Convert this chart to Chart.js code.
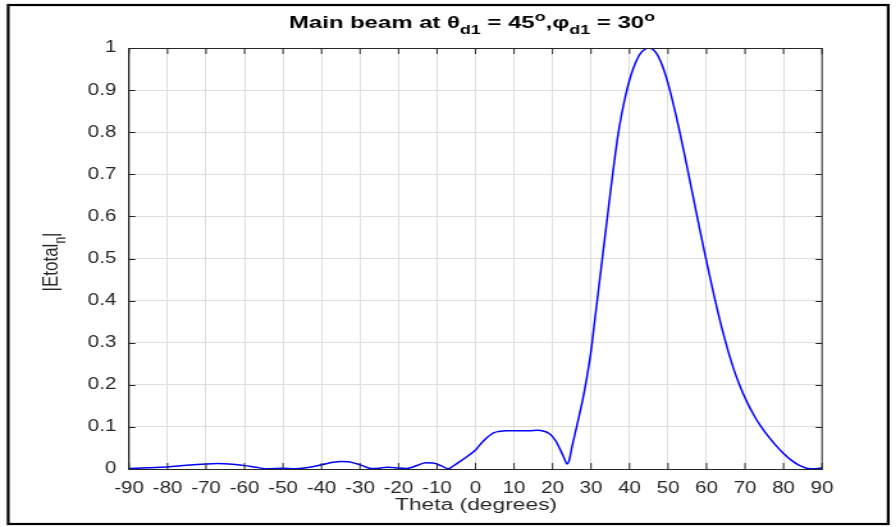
<!DOCTYPE html>
<html>
<head>
<meta charset="utf-8">
<script src="https://cdn.jsdelivr.net/npm/chart.js@4.4.1/dist/chart.umd.min.js"></script>
<style>
  html, body { margin: 0; padding: 0; background: #ffffff; overflow: hidden; }
  #page { position: relative; width: 896px; height: 527px; overflow: hidden; }
  /* the reference figure is a MATLAB plot that was stretched sideways; reproduce that stretch */
  #wrap { position: absolute; left: 0; top: 0; width: 700px; height: 527px; transform: scaleX(1.28); transform-origin: 0 0; }
</style>
</head>
<body>
<div id="page"><div id="wrap"><canvas id="c"></canvas></div></div>
<script>
// ---- data ----
const thetaDeg = [-90,-85,-80,-75,-70,-67,-64,-60,-57,-54,-50,-47,-44,-40,-37,-35,-33,-30,-27,-25,-23,-21,-18,-15,-13,-11,-9,-7,-6,-4,-2,0,1,2,3,4,5,6,8,10,12,14,16,18,19,20,21,22,23,23.75,24.3,25,26,27,28,29,30,31,32,33,34,35,36,37,38,39,40,41,42,43,44,45,46,47,48,49,50,51,52,53,54,55,56,57,58,59,60,61,62,63,64,65,66,67,68,69,70,71,72,73,74,75,76,78,80,82,84,86,88,90];
const etotalN = [0.001,0.003,0.005,0.009,0.012,0.013,0.012,0.008,0.004,0.0005,0.002,0.0005,0.003,0.010,0.016,0.018,0.017,0.010,0.001,0.002,0.004,0.003,0.001,0.009,0.015,0.014,0.008,0.0005,0.006,0.018,0.031,0.045,0.056,0.066,0.075,0.082,0.087,0.089,0.091,0.091,0.091,0.091,0.092,0.089,0.085,0.077,0.064,0.046,0.026,0.012,0.020,0.050,0.090,0.130,0.172,0.222,0.280,0.355,0.430,0.505,0.580,0.655,0.727,0.793,0.845,0.888,0.924,0.952,0.974,0.989,0.997,1.000,0.997,0.987,0.970,0.946,0.916,0.881,0.843,0.802,0.759,0.715,0.670,0.625,0.580,0.536,0.493,0.451,0.410,0.371,0.334,0.300,0.268,0.239,0.213,0.190,0.169,0.150,0.133,0.117,0.103,0.090,0.078,0.056,0.037,0.021,0.009,0.002,0.0005,0.003];
const xTickValues = [-90,-80,-70,-60,-50,-40,-30,-20,-10,0,10,20,30,40,50,60,70,80,90];
const xTickLabels = ['-90','-80','-70','-60','-50','-40','-30','-20','-10','0','10','20','30','40','50','60','70','80','90'];
const yTickValues = [0,0.1,0.2,0.3,0.4,0.5,0.6,0.7,0.8,0.9,1];
const yTickLabels = ['0','0.1','0.2','0.3','0.4','0.5','0.6','0.7','0.8','0.9','1'];
const titleParts = [
  {t: 'Main beam at \u03B8', k: 'n'}, {t: 'd1', k: 'sub'}, {t: ' = 45', k: 'n'}, {t: 'o', k: 'sup'},
  {t: ',\u03C6', k: 'n'}, {t: 'd1', k: 'sub'}, {t: ' = 30', k: 'n'}, {t: 'o', k: 'sup'}
];
const yLabelParts = [{t: '|Etotal', k: 'n'}, {t: 'n', k: 'sub'}, {t: '|', k: 'n'}];
const xLabelText = 'Theta (degrees)';

const AX = '#262626';
const FAM = '"Liberation Sans", Arial, Helvetica, sans-serif';

function drawParts(ctx, parts, bold, size, subSize, cx, baseY, targetW) {
  const w = bold ? 'bold ' : '';
  const fN = w + size + 'px ' + FAM;
  const fS = w + subSize + 'px ' + FAM;
  let total = 0;
  const widths = parts.map(p => { ctx.font = p.k === 'n' ? fN : fS; const m = ctx.measureText(p.t).width; total += m; return m; });
  const sx = targetW ? targetW / total : 1;
  ctx.save();
  ctx.translate(cx, baseY);
  ctx.scale(sx, 1);
  let x = -total / 2;
  ctx.textBaseline = 'alphabetic';
  ctx.textAlign = 'left';
  parts.forEach((p, i) => {
    ctx.font = p.k === 'n' ? fN : fS;
    const dy = p.k === 'sub' ? size * 0.38 : (p.k === 'sup' ? -size * 0.45 : 0);
    ctx.fillText(p.t, x, dy);
    x += widths[i];
  });
  ctx.restore();
}

const decor = {
  id: 'decor',
  afterDraw(chart) {
    const ctx = chart.ctx;
    const a = chart.chartArea;
    const xs = chart.scales.x, ys = chart.scales.y;
    ctx.save();
    // axes box
    ctx.strokeStyle = AX;
    ctx.lineWidth = 1;
    ctx.strokeRect(a.left, Math.round(a.top) + 0.5, a.right - a.left, Math.round(a.bottom - a.top));
    // inward ticks
    ctx.beginPath();
    xTickValues.forEach(v => {
      const px = xs.getPixelForValue(v);
      ctx.moveTo(px, a.bottom); ctx.lineTo(px, a.bottom - 6);
      ctx.moveTo(px, a.top); ctx.lineTo(px, a.top + 6);
    });
    yTickValues.forEach(v => {
      const py = Math.round(ys.getPixelForValue(v)) + 0.5;
      ctx.moveTo(a.left, py); ctx.lineTo(a.left + 5, py);
      ctx.moveTo(a.right, py); ctx.lineTo(a.right - 5, py);
    });
    ctx.stroke();
    // figure frame
    ctx.strokeStyle = '#000000';
    ctx.lineWidth = 2.2;
    ctx.strokeRect(6.4, 5, 687.5, 519);
    // title
    ctx.fillStyle = '#000000';
    drawParts(ctx, titleParts, true, 16, 12, 368.75, 28, 286);
    // x label
    ctx.fillStyle = AX;
    drawParts(ctx, [{t: xLabelText, k: 'n'}], false, 16, 12, 371.9, 510, 126.6);
    // y label (rotated)
    ctx.save();
    ctx.translate(44.5, 262);
    ctx.rotate(-Math.PI / 2);
    drawParts(ctx, yLabelParts, false, 17, 12, 0, 0, 0);
    ctx.restore();
    ctx.restore();
  }
};

new Chart(document.getElementById('c'), {
  type: 'line',
  data: {
    datasets: [{
      data: thetaDeg.map((x, i) => ({x: x, y: etotalN[i]})),
      borderColor: '#0000ff',
      borderWidth: 1.5,
      pointRadius: 0,
      fill: false,
      cubicInterpolationMode: 'monotone'
    }]
  },
  options: {
    responsive: true,
    maintainAspectRatio: false,
    animation: false,
    layout: {padding: {left: 0, right: 57.8, top: 48, bottom: 0}},
    plugins: {legend: {display: false}, tooltip: {enabled: false}, title: {display: false}},
    scales: {
      x: {
        type: 'linear', min: -90, max: 90,
        afterBuildTicks: s => { s.ticks = xTickValues.map(v => ({value: v})); },
        afterFit: s => { s.height = 58; },
        grid: {color: '#dedede', drawTicks: false, lineWidth: 1},
        border: {display: true, color: AX},
        ticks: {
          padding: 10, color: AX, maxRotation: 0, autoSkip: false,
          font: {family: FAM, size: 16},
          callback: (v, i) => xTickLabels[i]
        }
      },
      y: {
        type: 'linear', min: 0, max: 1,
        afterBuildTicks: s => { s.ticks = yTickValues.map(v => ({value: v})); },
        afterFit: s => { s.width = 100.8; },
        grid: {color: '#dedede', drawTicks: false, lineWidth: 1},
        border: {display: true, color: AX},
        ticks: {
          padding: 10, color: AX,
          font: {family: FAM, size: 16},
          callback: (v, i) => yTickLabels[i]
        }
      }
    }
  },
  plugins: [decor]
});
</script>
</body>
</html>
